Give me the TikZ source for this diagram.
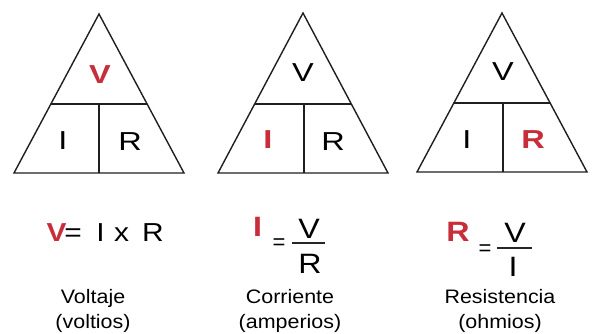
\documentclass[tikz,border=0pt]{standalone}
\usepackage{fontspec}
\setmainfont{Liberation Sans}
\definecolor{ohmred}{RGB}{200,45,58}
\begin{document}
\begin{tikzpicture}[x=1pt, y=-1pt,
  tri/.style={line width=1.4pt, draw=black!88, line join=miter},
  tletter/.style={font=\fontsize{26}{26}\selectfont, xscale=1.25, inner sep=0pt},
  hot/.style={text=ohmred, font=\fontsize{26}{26}\selectfont\bfseries},
  fchar/.style={font=\fontsize{28}{28}\selectfont, xscale=1.15, inner sep=0pt},
  feq/.style={font=\fontsize{22}{22}\selectfont, inner sep=0pt},
  lbl/.style={font=\fontsize{19.5}{25}\selectfont, xscale=1.1, align=center, inner sep=0pt, anchor=north}]
\useasboundingbox (0,0) rectangle (595,334);
% Triangle V
\begin{scope}[xshift=99pt]
\draw[tri] (0,14) -- (85,173) -- (-85,173) -- cycle;
\draw[tri] (-48,104) -- (48,104);
\draw[tri] (0,104) -- (0,173);
\node[tletter, hot] (t1v) at (1,75) {V};
\node[tletter] (t1i) at (-36,141) {I};
\node[tletter] (t1r) at (31,142) {R};
\end{scope}
% Triangle I
\begin{scope}[xshift=303pt]
\draw[tri] (0,13) -- (85,173) -- (-85,173) -- cycle;
\draw[tri] (-48,104) -- (48,104);
\draw[tri] (1,104) -- (1,173);
\node[tletter] (t2v) at (0,73) {V};
\node[tletter, hot] (t2i) at (-35,140) {I};
\node[tletter] (t2r) at (30,142) {R};
\end{scope}
% Triangle R
\begin{scope}[xshift=502pt]
\draw[tri] (0,13) -- (85,172) -- (-85,172) -- cycle;
\draw[tri] (-48,103) -- (48,103);
\draw[tri] (1,103) -- (1,172);
\node[tletter] (t3v) at (1,72) {V};
\node[tletter] (t3i) at (-35,140) {I};
\node[tletter, hot] (t3r) at (31,140) {R};
\end{scope}
% V = I x R
\begin{scope}[fchar/.append style={font=\fontsize{26}{26}\selectfont}]
\node[fchar, hot, font=\fontsize{26}{26}\selectfont\bfseries, anchor=base] (f1v) at (56.5,241) {V};
\node[fchar, anchor=base] (f1eq) at (73,241) {=};
\node[fchar, anchor=base] (f1i) at (100.5,241) {I};
\node[fchar, anchor=base] (f1x) at (121.5,241) {x};
\node[fchar, anchor=base] (f1r) at (153,241) {R};
\end{scope}
% I = V / R
\node[fchar, hot, font=\fontsize{28}{28}\selectfont\bfseries] (f2i) at (257.5,227) {I};
\node[feq] (f2eq) at (279,244) {=};
\draw[line width=1.5pt, black!85] (292,243) -- (325,243);
\node[fchar] (f2v) at (309,229) {V};
\node[fchar] (f2r) at (310,264) {R};
% R = V / I
\node[fchar, hot, font=\fontsize{28}{28}\selectfont\bfseries] (f3r) at (458,231.5) {R};
\node[feq] (f3eq) at (485,250) {=};
\draw[line width=1.5pt, black!85] (497,248) -- (532,248);
\node[fchar] (f3v) at (515,233) {V};
\node[fchar] (f3i) at (513,267) {I};
% labels
\node[lbl] (l1) at (93,289) {Voltaje\\(voltios)};
\node[lbl] (l2) at (290,289) {Corriente\\(amperios)};
\node[lbl] (l3) at (500,289) {Resistencia\\(ohmios)};
\end{tikzpicture}
\end{document}
